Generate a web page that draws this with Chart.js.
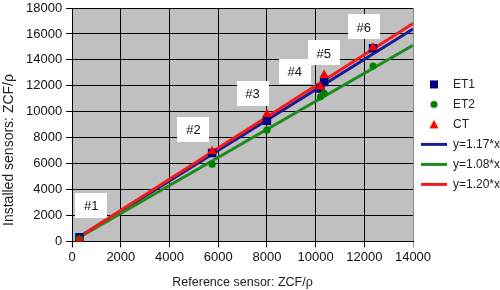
<!DOCTYPE html>
<html>
<head>
<meta charset="utf-8">
<script src="https://cdn.jsdelivr.net/npm/chart.js@4/dist/chart.umd.min.js"></script>
<style>
  html, body { margin: 0; padding: 0; background: #fff; }
  #wrap { width: 500px; height: 290px; }
</style>
</head>
<body>
<div id="wrap"><canvas id="chart"></canvas></div>
<script>
// measured points (reference sensor on x, installed sensors on y)
const refX = [300, 5750, 8000, 10200, 10350, 12360];
const et1 = [330, 6820, 9300, 11800, 12300, 14890];
const et2 = [200, 5950, 8580, 11150, 11410, 13520];
const ct  = [80, 6950, 9800, 11900, 12830, 14950];

// fitted lines, end points
const fitX   = [300, 14000];
const fitEt1 = [350, 16380];
const fitEt2 = [324, 15120];
const fitCt  = [360, 16800];

// "#n" tags next to the point groups
const tagText = ['#1', '#2', '#3', '#4', '#5', '#6'];
const tagX = [780, 4980, 7410, 9140, 10330, 11980];
const tagY = [2800, 8620, 11380, 13100, 14530, 16540];

const xMax = 14000, yMax = 18000, tickStep = 2000;
const yTitle = 'Installed sensors: ZCF/ρ';

const FONT = "'Liberation Sans', Arial, sans-serif";

function pts(xs, ys) {
  return xs.map((x, i) => ({ x, y: ys[i] }));
}

// small canvases used as legend symbols for the marker series
function markerImage(shape, color) {
  const c = document.createElement('canvas');
  c.width = 12; c.height = 12;
  const g = c.getContext('2d');
  g.fillStyle = color;
  if (shape === 'rect') {
    g.fillRect(2, 2, 8, 8);
  } else if (shape === 'circle') {
    g.beginPath(); g.arc(6, 6, 3.6, 0, Math.PI * 2); g.fill();
  } else {
    g.beginPath(); g.moveTo(6, 1.5); g.lineTo(10.5, 10); g.lineTo(1.5, 10); g.closePath(); g.fill();
  }
  return c;
}

const plotBg = {
  id: 'plotBg',
  beforeDraw(chart) {
    const { ctx, chartArea: a } = chart;
    ctx.save();
    ctx.fillStyle = '#c0c0c0';
    ctx.fillRect(a.left, a.top, a.right - a.left, a.bottom - a.top);
    ctx.restore();
  },
  afterDraw(chart) {
    // y axis title sits lower than the plot centre in the original
    const { ctx } = chart;
    ctx.save();
    ctx.translate(9, 150);
    ctx.rotate(-Math.PI / 2);
    ctx.font = '14px ' + FONT;
    ctx.fillStyle = '#222';
    ctx.textAlign = 'center';
    ctx.textBaseline = 'middle';
    ctx.fillText(yTitle, 0, 0);
    ctx.restore();
  }
};

const tags = {
  id: 'tags',
  beforeDatasetsDraw(chart) {
    const { ctx, scales: { x, y } } = chart;
    ctx.save();
    ctx.font = '13px ' + FONT;
    ctx.textAlign = 'center';
    ctx.textBaseline = 'middle';
    tagText.forEach((t, i) => {
      const px = x.getPixelForValue(tagX[i]);
      const py = y.getPixelForValue(tagY[i]);
      ctx.fillStyle = '#fff';
      ctx.fillRect(Math.round(px - 16), Math.round(py - 12.5), 32, 25);
      ctx.fillStyle = '#111';
      ctx.fillText(t, px, py + 1);
    });
    ctx.restore();
  }
};

const markerSet = (label, data, color, style, radius, order) => ({
  label, data, order,
  showLine: false,
  pointStyle: style,
  pointRadius: radius,
  pointHoverRadius: radius,
  backgroundColor: color,
  borderColor: color,
  borderWidth: 0,
  legendImg: markerImage(style, color)
});

const lineSet = (label, data, color, order) => ({
  label, data, order,
  showLine: true,
  pointRadius: 0,
  borderColor: color,
  backgroundColor: color,
  borderWidth: 3
});

new Chart(document.getElementById('chart'), {
  type: 'scatter',
  data: {
    datasets: [
      markerSet('ET1', pts(refX, et1), '#000080', 'rect', 6, 2),
      markerSet('ET2', pts(refX, et2), '#008000', 'circle', 3.6, 1),
      markerSet('CT', pts(refX, ct), '#ff0000', 'triangle', 5.5, 0),
      lineSet('y=1.17*x', pts(fitX, fitEt1), '#1c1c94', 5),
      lineSet('y=1.08*x', pts(fitX, fitEt2), '#1f8a1f', 4),
      lineSet('y=1.20*x', pts(fitX, fitCt), '#f21c1c', 3)
    ]
  },
  options: {
    responsive: true,
    maintainAspectRatio: false,
    animation: false,
    layout: { padding: { top: 8, right: 0, left: 22, bottom: 0 } },
    plugins: {
      tooltip: { enabled: false },
      legend: {
        position: 'right',
        align: 'start',
        maxWidth: 87,
        title: { display: true, text: '', font: { size: 12 }, padding: { top: 0, bottom: 48 } },
        labels: {
          usePointStyle: true,
          pointStyleWidth: 26,
          boxHeight: 12,
          padding: 8,
          color: '#222',
          font: { family: FONT, size: 12 },
          sort: (a, b) => a.datasetIndex - b.datasetIndex,
          generateLabels(chart) {
            const items = Chart.defaults.plugins.legend.labels.generateLabels(chart);
            items.forEach(it => {
              const ds = chart.data.datasets[it.datasetIndex];
              if (ds.legendImg) it.pointStyle = ds.legendImg;
              else { it.pointStyle = 'line'; it.lineWidth = 3; it.strokeStyle = ds.borderColor; }
            });
            return items;
          }
        }
      }
    },
    scales: {
      x: {
        type: 'linear',
        min: 0, max: xMax,
        ticks: { stepSize: tickStep, color: '#111', font: { family: FONT, size: 13 }, padding: 2, maxRotation: 0, callback: v => String(v) },
        grid: {
          color: ctx => ctx.tick && ctx.tick.value === xMax ? '#8a8a8a' : '#000',
          tickLength: 6,
          lineWidth: 1
        },
        border: { color: '#000' },
        title: { display: true, text: 'Reference sensor: ZCF/ρ', color: '#222', font: { family: FONT, size: 12.5 }, padding: { top: 8, bottom: 0 } }
      },
      y: {
        type: 'linear',
        min: 0, max: yMax,
        ticks: { stepSize: tickStep, color: '#111', font: { family: FONT, size: 13, lineHeight: 1 }, padding: 4, callback: v => String(v) },
        grid: { color: '#000', tickLength: 6, lineWidth: 1 },
        border: { color: '#000' },
        // top label may overhang the plot, as in the original
        afterFit(scale) { scale.paddingTop = 0; }
      }
    }
  },
  plugins: [plotBg, tags]
});
</script>
</body>
</html>
